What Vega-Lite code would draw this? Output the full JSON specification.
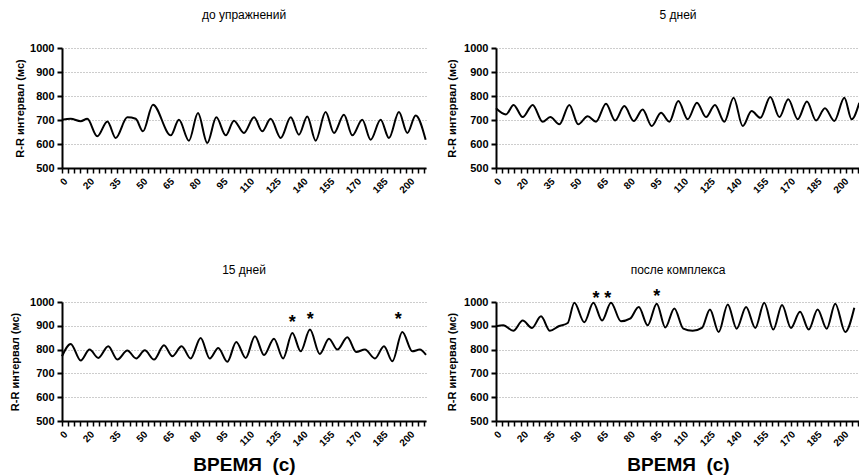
{
  "$schema": "https://vega.github.io/schema/vega-lite/v6.json",
  "padding": {"left": 9, "top": 9, "right": 0, "bottom": 0},
  "config": {"font": "Liberation Sans", "view": {"stroke": null}, "background": "white"},
  "datasets": {
    "p1": [
      {"t": 5, "rr": 701}, {"t": 9.9, "rr": 705}, {"t": 15.5, "rr": 695}, {"t": 19.2, "rr": 705}, {"t": 24.8, "rr": 632},
      {"t": 30.5, "rr": 694}, {"t": 35.2, "rr": 625}, {"t": 41.7, "rr": 711}, {"t": 46.4, "rr": 705}, {"t": 50.5, "rr": 653},
      {"t": 56.1, "rr": 764}, {"t": 66.1, "rr": 636}, {"t": 70.7, "rr": 701}, {"t": 76.3, "rr": 614}, {"t": 81.4, "rr": 729},
      {"t": 86.6, "rr": 604}, {"t": 91.7, "rr": 711}, {"t": 97, "rr": 636}, {"t": 101.6, "rr": 697}, {"t": 107.2, "rr": 646},
      {"t": 112.9, "rr": 711}, {"t": 117.5, "rr": 653}, {"t": 122.2, "rr": 705}, {"t": 127.9, "rr": 625}, {"t": 133.5, "rr": 711},
      {"t": 138.1, "rr": 639}, {"t": 142.8, "rr": 715}, {"t": 147.5, "rr": 614}, {"t": 153.1, "rr": 733}, {"t": 157.8, "rr": 646},
      {"t": 163.4, "rr": 722}, {"t": 168.1, "rr": 636}, {"t": 173.7, "rr": 701}, {"t": 178.4, "rr": 618}, {"t": 184, "rr": 701},
      {"t": 188.7, "rr": 625}, {"t": 194.3, "rr": 733}, {"t": 199, "rr": 646}, {"t": 203.7, "rr": 719}, {"t": 209.3, "rr": 618}
    ],
    "p2": [
      {"t": 5, "rr": 749}, {"t": 10.6, "rr": 723}, {"t": 14.9, "rr": 763}, {"t": 20, "rr": 712}, {"t": 25.6, "rr": 763},
      {"t": 31.2, "rr": 693}, {"t": 35.5, "rr": 712}, {"t": 40.6, "rr": 682}, {"t": 46.2, "rr": 763}, {"t": 51.2, "rr": 682},
      {"t": 56.5, "rr": 716}, {"t": 61.2, "rr": 693}, {"t": 66.8, "rr": 768}, {"t": 71.9, "rr": 698}, {"t": 77.1, "rr": 758},
      {"t": 82.4, "rr": 696}, {"t": 87.4, "rr": 744}, {"t": 92.5, "rr": 675}, {"t": 97.7, "rr": 730}, {"t": 102.4, "rr": 693},
      {"t": 107.4, "rr": 779}, {"t": 112.7, "rr": 703}, {"t": 117.9, "rr": 772}, {"t": 123, "rr": 712}, {"t": 128, "rr": 763},
      {"t": 133.3, "rr": 693}, {"t": 138.5, "rr": 793}, {"t": 143.6, "rr": 675}, {"t": 148.6, "rr": 737}, {"t": 153.5, "rr": 709},
      {"t": 159.1, "rr": 796}, {"t": 164.2, "rr": 712}, {"t": 169.2, "rr": 786}, {"t": 174.5, "rr": 703}, {"t": 179.7, "rr": 777},
      {"t": 184.8, "rr": 698}, {"t": 189.8, "rr": 749}, {"t": 195.1, "rr": 696}, {"t": 200.7, "rr": 793}, {"t": 204.8, "rr": 703},
      {"t": 209.1, "rr": 772}
    ],
    "p3": [
      {"t": 5, "rr": 772}, {"t": 9.9, "rr": 824}, {"t": 15.5, "rr": 754}, {"t": 20.5, "rr": 800}, {"t": 25.4, "rr": 765},
      {"t": 31, "rr": 814}, {"t": 36.1, "rr": 758}, {"t": 41.7, "rr": 796}, {"t": 46.7, "rr": 763}, {"t": 51.5, "rr": 797},
      {"t": 56.7, "rr": 758}, {"t": 62.3, "rr": 818}, {"t": 67, "rr": 772}, {"t": 72.2, "rr": 814}, {"t": 77.3, "rr": 763},
      {"t": 82.9, "rr": 849}, {"t": 88, "rr": 763}, {"t": 92.8, "rr": 807}, {"t": 97.9, "rr": 749}, {"t": 102.9, "rr": 832},
      {"t": 108.2, "rr": 765}, {"t": 113.4, "rr": 856}, {"t": 118.5, "rr": 777}, {"t": 124.1, "rr": 846}, {"t": 129.2, "rr": 763},
      {"t": 134.4, "rr": 870}, {"t": 139.1, "rr": 793}, {"t": 144.3, "rr": 884}, {"t": 149.8, "rr": 782}, {"t": 155, "rr": 846},
      {"t": 159.7, "rr": 800}, {"t": 165.3, "rr": 852}, {"t": 170.3, "rr": 790}, {"t": 175.2, "rr": 800}, {"t": 180.8, "rr": 763},
      {"t": 185.9, "rr": 814}, {"t": 190.6, "rr": 751}, {"t": 196.2, "rr": 874}, {"t": 201.8, "rr": 793}, {"t": 206, "rr": 800},
      {"t": 209.5, "rr": 778}
    ],
    "p4": [
      {"t": 5, "rr": 898}, {"t": 9.1, "rr": 902}, {"t": 14.7, "rr": 879}, {"t": 20, "rr": 922}, {"t": 25.2, "rr": 891},
      {"t": 30.3, "rr": 940}, {"t": 35.3, "rr": 879}, {"t": 40.2, "rr": 898}, {"t": 45.3, "rr": 912}, {"t": 49, "rr": 997},
      {"t": 54.6, "rr": 915}, {"t": 59.7, "rr": 997}, {"t": 64.6, "rr": 922}, {"t": 69.6, "rr": 997}, {"t": 75.2, "rr": 919},
      {"t": 80.3, "rr": 930}, {"t": 85.2, "rr": 979}, {"t": 90.2, "rr": 902}, {"t": 95.3, "rr": 993}, {"t": 100.1, "rr": 893},
      {"t": 105.2, "rr": 973}, {"t": 110.2, "rr": 888}, {"t": 115.5, "rr": 879}, {"t": 120.7, "rr": 891}, {"t": 125.2, "rr": 969},
      {"t": 130.1, "rr": 874}, {"t": 135.2, "rr": 990}, {"t": 140.2, "rr": 888}, {"t": 145.5, "rr": 979}, {"t": 150.7, "rr": 891},
      {"t": 155.7, "rr": 997}, {"t": 160.8, "rr": 884}, {"t": 165.7, "rr": 987}, {"t": 170.7, "rr": 891}, {"t": 175.8, "rr": 959},
      {"t": 180.7, "rr": 884}, {"t": 185.7, "rr": 969}, {"t": 190.8, "rr": 888}, {"t": 195.6, "rr": 993}, {"t": 201.2, "rr": 874},
      {"t": 206.3, "rr": 976}
    ],
    "s3": [{"t": 134.4, "rr": 891, "m": "*"}, {"t": 144.5, "rr": 905, "m": "*"}, {"t": 193.9, "rr": 905, "m": "*"}],
    "s4": [{"t": 61.2, "rr": 990, "m": "*"}, {"t": 67.8, "rr": 990, "m": "*"}, {"t": 95.3, "rr": 999, "m": "*"}]
  },
  "bounds": "flush",
  "columns": 2,
  "spacing": {"row": 134, "column": 70},
  "concat": [
    {
      "width": 364, "height": 120,
      "title": {"text": "до упражнений", "fontSize": 12, "fontWeight": "normal", "offset": 20},
      "data": {"name": "p1"},
      "resolve": {"axis": {"x": "independent", "y": "independent"}},
      "layer": [
        {
          "mark": {"type": "line", "interpolate": "monotone", "color": "black", "strokeWidth": 2},
          "encoding": {
            "x": {"field": "t", "type": "quantitative", "scale": {"domain": [5, 209.5], "nice": false, "zero": false},
              "axis": {"orient": "bottom", "values": [5, 20, 35, 50, 65, 80, 95, 110, 125, 140, 155, 170, 185, 200], "labelExpr": "datum.value == 5 ? '0' : datum.label", "labelOverlap": false, "ticks": false, "grid": false, "title": null, "labelAngle": -45, "labelFontSize": 10, "labelFontWeight": "bold", "labelColor": "black", "labelPadding": 8, "domainColor": "black", "domainWidth": 2}},
            "y": {"field": "rr", "type": "quantitative", "scale": {"domain": [500, 1000], "nice": false, "zero": false},
              "axis": {"orient": "left", "values": [500, 600, 700, 800, 900, 1000], "format": "d", "labelOverlap": false, "title": "R-R интервал (мс)", "titleFontSize": 11, "titleFontWeight": "bold", "titleColor": "black", "titlePadding": 4, "labelFontSize": 11, "labelFontWeight": "bold", "labelColor": "black", "labelPadding": 3, "tickSize": 5, "tickWidth": 2, "tickColor": "black", "domainColor": "black", "domainWidth": 2, "grid": true, "gridColor": "#9a9a9a", "gridDash": [1, 2], "gridWidth": 1}}
          }
        },
        {
          "mark": {"type": "line", "strokeOpacity": 0},
          "encoding": {
            "x": {"field": "t", "type": "quantitative", "axis": {"orient": "bottom", "values": [5, 8.45, 11.9, 15.35, 18.8, 22.25, 25.7, 29.15, 32.6, 36.05, 39.5, 42.95, 46.4, 49.85, 53.3, 56.75, 60.2, 63.65, 67.1, 70.55, 74, 77.45, 80.9, 84.35, 87.8, 91.25, 94.7, 98.15, 101.6, 105.05, 108.5, 111.95, 115.4, 118.85, 122.3, 125.75, 129.2, 132.65, 136.1, 139.55, 143, 146.45, 149.9, 153.35, 156.8, 160.25, 163.7, 167.15, 170.6, 174.05, 177.5, 180.95, 184.4, 187.85, 191.3, 194.75, 198.2, 201.65, 205.1, 208.55], "labels": false, "ticks": true, "tickSize": 5, "tickWidth": 1.5, "tickColor": "black", "grid": false, "domain": false, "title": null}},
            "y": {"field": "rr", "type": "quantitative", "axis": {"orient": "left", "labels": false, "ticks": false, "domain": false, "grid": false, "title": null}}
          }
        }
      ]
    },
    {
      "width": 364, "height": 120,
      "title": {"text": "5 дней", "fontSize": 12, "fontWeight": "normal", "offset": 20},
      "data": {"name": "p2"},
      "resolve": {"axis": {"x": "independent", "y": "independent"}},
      "layer": [
        {
          "mark": {"type": "line", "interpolate": "monotone", "color": "black", "strokeWidth": 2},
          "encoding": {
            "x": {"field": "t", "type": "quantitative", "scale": {"domain": [5, 209.5], "nice": false, "zero": false},
              "axis": {"orient": "bottom", "values": [5, 20, 35, 50, 65, 80, 95, 110, 125, 140, 155, 170, 185, 200], "labelExpr": "datum.value == 5 ? '0' : datum.label", "labelOverlap": false, "ticks": false, "grid": false, "title": null, "labelAngle": -45, "labelFontSize": 10, "labelFontWeight": "bold", "labelColor": "black", "labelPadding": 8, "domainColor": "black", "domainWidth": 2}},
            "y": {"field": "rr", "type": "quantitative", "scale": {"domain": [500, 1000], "nice": false, "zero": false},
              "axis": {"orient": "left", "values": [500, 600, 700, 800, 900, 1000], "format": "d", "labelOverlap": false, "title": "R-R интервал (мс)", "titleFontSize": 11, "titleFontWeight": "bold", "titleColor": "black", "titlePadding": 6, "labelFontSize": 11, "labelFontWeight": "bold", "labelColor": "black", "labelPadding": 3, "tickSize": 5, "tickWidth": 2, "tickColor": "black", "domainColor": "black", "domainWidth": 2, "grid": true, "gridColor": "#9a9a9a", "gridDash": [1, 2], "gridWidth": 1}}
          }
        },
        {
          "mark": {"type": "line", "strokeOpacity": 0},
          "encoding": {
            "x": {"field": "t", "type": "quantitative", "axis": {"orient": "bottom", "values": [5, 8.45, 11.9, 15.35, 18.8, 22.25, 25.7, 29.15, 32.6, 36.05, 39.5, 42.95, 46.4, 49.85, 53.3, 56.75, 60.2, 63.65, 67.1, 70.55, 74, 77.45, 80.9, 84.35, 87.8, 91.25, 94.7, 98.15, 101.6, 105.05, 108.5, 111.95, 115.4, 118.85, 122.3, 125.75, 129.2, 132.65, 136.1, 139.55, 143, 146.45, 149.9, 153.35, 156.8, 160.25, 163.7, 167.15, 170.6, 174.05, 177.5, 180.95, 184.4, 187.85, 191.3, 194.75, 198.2, 201.65, 205.1, 208.55], "labels": false, "ticks": true, "tickSize": 5, "tickWidth": 1.5, "tickColor": "black", "grid": false, "domain": false, "title": null}},
            "y": {"field": "rr", "type": "quantitative", "axis": {"orient": "left", "labels": false, "ticks": false, "domain": false, "grid": false, "title": null}}
          }
        }
      ]
    },
    {
      "width": 364, "height": 119,
      "title": {"text": "15 дней", "fontSize": 12, "fontWeight": "normal", "offset": 19},
      "resolve": {"axis": {"x": "independent", "y": "independent"}},
      "layer": [
        {
          "data": {"name": "p3"},
          "mark": {"type": "line", "interpolate": "monotone", "color": "black", "strokeWidth": 2},
          "encoding": {
            "x": {"field": "t", "type": "quantitative", "scale": {"domain": [5, 209.5], "nice": false, "zero": false},
              "axis": {"orient": "bottom", "values": [5, 20, 35, 50, 65, 80, 95, 110, 125, 140, 155, 170, 185, 200], "labelExpr": "datum.value == 5 ? '0' : datum.label", "labelOverlap": false, "ticks": false, "grid": false, "title": "ВРЕМЯ\u00a0\u00a0(с)", "titleFontSize": 19, "titleFontWeight": "bold", "titleColor": "black", "titlePadding": 8, "labelAngle": -45, "labelFontSize": 10, "labelFontWeight": "bold", "labelColor": "black", "labelPadding": 8, "domainColor": "black", "domainWidth": 2}},
            "y": {"field": "rr", "type": "quantitative", "scale": {"domain": [500, 1000], "nice": false, "zero": false},
              "axis": {"orient": "left", "values": [500, 600, 700, 800, 900, 1000], "format": "d", "labelOverlap": false, "title": "R-R интервал (мс)", "titleFontSize": 11, "titleFontWeight": "bold", "titleColor": "black", "titlePadding": 9, "labelFontSize": 11, "labelFontWeight": "bold", "labelColor": "black", "labelPadding": 3, "tickSize": 5, "tickWidth": 2, "tickColor": "black", "domainColor": "black", "domainWidth": 2, "grid": true, "gridColor": "#9a9a9a", "gridDash": [1, 2], "gridWidth": 1}}
          }
        },
        {
          "data": {"name": "p3"},
          "mark": {"type": "line", "strokeOpacity": 0},
          "encoding": {
            "x": {"field": "t", "type": "quantitative", "axis": {"orient": "bottom", "values": [5, 8.45, 11.9, 15.35, 18.8, 22.25, 25.7, 29.15, 32.6, 36.05, 39.5, 42.95, 46.4, 49.85, 53.3, 56.75, 60.2, 63.65, 67.1, 70.55, 74, 77.45, 80.9, 84.35, 87.8, 91.25, 94.7, 98.15, 101.6, 105.05, 108.5, 111.95, 115.4, 118.85, 122.3, 125.75, 129.2, 132.65, 136.1, 139.55, 143, 146.45, 149.9, 153.35, 156.8, 160.25, 163.7, 167.15, 170.6, 174.05, 177.5, 180.95, 184.4, 187.85, 191.3, 194.75, 198.2, 201.65, 205.1, 208.55], "labels": false, "ticks": true, "tickSize": 5, "tickWidth": 1.5, "tickColor": "black", "grid": false, "domain": false, "title": null}},
            "y": {"field": "rr", "type": "quantitative", "axis": {"orient": "left", "labels": false, "ticks": false, "domain": false, "grid": false, "title": null}}
          }
        },
        {
          "data": {"name": "s3"},
          "mark": {"type": "text", "fontSize": 18, "fontWeight": "bold", "color": "black", "baseline": "alphabetic", "align": "center"},
          "encoding": {
            "x": {"field": "t", "type": "quantitative", "axis": {"orient": "bottom", "labels": false, "ticks": false, "domain": false, "grid": false, "title": null}},
            "y": {"field": "rr", "type": "quantitative", "axis": {"orient": "left", "labels": false, "ticks": false, "domain": false, "grid": false, "title": null}},
            "text": {"field": "m"}
          }
        }
      ]
    },
    {
      "width": 364, "height": 119,
      "title": {"text": "после комплекса", "fontSize": 12, "fontWeight": "normal", "offset": 11},
      "resolve": {"axis": {"x": "independent", "y": "independent"}},
      "layer": [
        {
          "data": {"name": "p4"},
          "mark": {"type": "line", "interpolate": "monotone", "color": "black", "strokeWidth": 2},
          "encoding": {
            "x": {"field": "t", "type": "quantitative", "scale": {"domain": [5, 209.5], "nice": false, "zero": false},
              "axis": {"orient": "bottom", "values": [5, 20, 35, 50, 65, 80, 95, 110, 125, 140, 155, 170, 185, 200], "labelExpr": "datum.value == 5 ? '0' : datum.label", "labelOverlap": false, "ticks": false, "grid": false, "title": "ВРЕМЯ\u00a0\u00a0(с)", "titleFontSize": 19, "titleFontWeight": "bold", "titleColor": "black", "titlePadding": 8, "labelAngle": -45, "labelFontSize": 10, "labelFontWeight": "bold", "labelColor": "black", "labelPadding": 8, "domainColor": "black", "domainWidth": 2}},
            "y": {"field": "rr", "type": "quantitative", "scale": {"domain": [500, 1000], "nice": false, "zero": false},
              "axis": {"orient": "left", "values": [500, 600, 700, 800, 900, 1000], "format": "d", "labelOverlap": false, "title": "R-R интервал (мс)", "titleFontSize": 11, "titleFontWeight": "bold", "titleColor": "black", "titlePadding": 6, "labelFontSize": 11, "labelFontWeight": "bold", "labelColor": "black", "labelPadding": 3, "tickSize": 5, "tickWidth": 2, "tickColor": "black", "domainColor": "black", "domainWidth": 2, "grid": true, "gridColor": "#9a9a9a", "gridDash": [1, 2], "gridWidth": 1}}
          }
        },
        {
          "data": {"name": "p4"},
          "mark": {"type": "line", "strokeOpacity": 0},
          "encoding": {
            "x": {"field": "t", "type": "quantitative", "axis": {"orient": "bottom", "values": [5, 8.45, 11.9, 15.35, 18.8, 22.25, 25.7, 29.15, 32.6, 36.05, 39.5, 42.95, 46.4, 49.85, 53.3, 56.75, 60.2, 63.65, 67.1, 70.55, 74, 77.45, 80.9, 84.35, 87.8, 91.25, 94.7, 98.15, 101.6, 105.05, 108.5, 111.95, 115.4, 118.85, 122.3, 125.75, 129.2, 132.65, 136.1, 139.55, 143, 146.45, 149.9, 153.35, 156.8, 160.25, 163.7, 167.15, 170.6, 174.05, 177.5, 180.95, 184.4, 187.85, 191.3, 194.75, 198.2, 201.65, 205.1, 208.55], "labels": false, "ticks": true, "tickSize": 5, "tickWidth": 1.5, "tickColor": "black", "grid": false, "domain": false, "title": null}},
            "y": {"field": "rr", "type": "quantitative", "axis": {"orient": "left", "labels": false, "ticks": false, "domain": false, "grid": false, "title": null}}
          }
        },
        {
          "data": {"name": "s4"},
          "mark": {"type": "text", "fontSize": 18, "fontWeight": "bold", "color": "black", "baseline": "alphabetic", "align": "center"},
          "encoding": {
            "x": {"field": "t", "type": "quantitative", "axis": {"orient": "bottom", "labels": false, "ticks": false, "domain": false, "grid": false, "title": null}},
            "y": {"field": "rr", "type": "quantitative", "axis": {"orient": "left", "labels": false, "ticks": false, "domain": false, "grid": false, "title": null}},
            "text": {"field": "m"}
          }
        }
      ]
    }
  ]
}
